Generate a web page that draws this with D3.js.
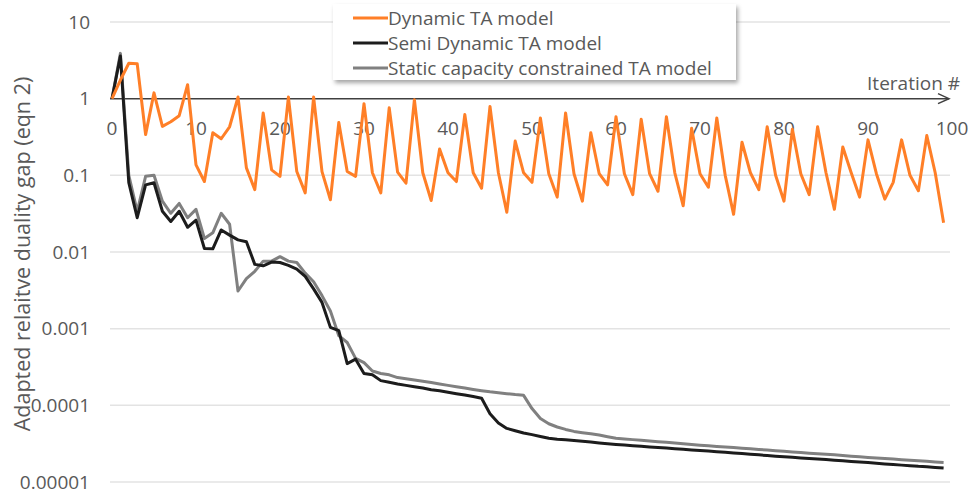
<!DOCTYPE html>
<html lang="en">
<head>
    <meta charset="utf-8">
    <title>Duality gap per iteration</title>
    <script src="https://d3js.org/d3.v7.min.js"></script>
    <style>
        body { margin: 0; background: #fff; }
        text { font-family: "Open Sans", "Noto Sans", sans-serif; fill: #595959; }
    </style>
</head>
<body>
<svg width="970" height="493"></svg>
<script>
    // values, one per iteration 0..99
    var dynamicTA = [1.0, 1.75, 2.9, 2.85, 0.34, 1.19, 0.435, 0.5, 0.6, 1.52,
        0.137, 0.083, 0.36, 0.30, 0.43, 1.05, 0.125, 0.065, 0.65, 0.118,
        0.097, 1.05, 0.112, 0.059, 1.05, 0.112, 0.048, 0.49, 0.112, 0.097,
        0.86, 0.108, 0.059, 0.76, 0.11, 0.079, 0.97, 0.108, 0.047, 0.22,
        0.108, 0.083, 0.62, 0.108, 0.068, 0.79, 0.108, 0.033, 0.28, 0.108,
        0.081, 0.56, 0.105, 0.052, 0.65, 0.105, 0.046, 0.36, 0.105, 0.075,
        0.58, 0.105, 0.056, 0.54, 0.105, 0.062, 0.58, 0.108, 0.04, 0.41,
        0.105, 0.07, 0.56, 0.1, 0.031, 0.27, 0.108, 0.065, 0.43, 0.1,
        0.046, 0.40, 0.105, 0.056, 0.43, 0.108, 0.036, 0.234, 0.108, 0.052,
        0.29, 0.105, 0.049, 0.081, 0.29, 0.1, 0.063, 0.33, 0.108, 0.024];

    var semiDynamicTA = [1.0, 3.6, 0.08, 0.028, 0.075, 0.08, 0.034, 0.025, 0.034, 0.021,
        0.026, 0.0111, 0.011, 0.0194, 0.0166, 0.0144, 0.0136, 0.0069, 0.0066, 0.0074,
        0.0073, 0.0067, 0.006, 0.0048, 0.0033, 0.0022, 0.00104, 0.00094, 0.00035, 0.0004,
        0.00026, 0.00025, 0.00021, 0.0002, 0.00019, 0.000182, 0.000175, 0.000168, 0.00016, 0.000155,
        0.000148, 0.000142, 0.000136, 0.00013, 0.000124, 0.0000776, 0.0000588, 0.00005, 0.0000467, 0.0000436,
        0.0000415, 0.0000392, 0.0000372, 0.0000362, 0.0000355, 0.0000348, 0.000034, 0.0000332, 0.0000323, 0.0000316,
        0.0000309, 0.0000303, 0.0000298, 0.0000292, 0.0000287, 0.0000282, 0.0000277, 0.0000272, 0.0000267, 0.0000262,
        0.0000258, 0.0000253, 0.0000248, 0.0000244, 0.0000239, 0.0000235, 0.000023, 0.0000226, 0.0000221, 0.0000217,
        0.0000213, 0.000021, 0.0000206, 0.0000203, 0.0000199, 0.0000196, 0.0000192, 0.0000189, 0.0000185, 0.0000182,
        0.0000179, 0.0000175, 0.0000172, 0.0000169, 0.0000166, 0.0000163, 0.000016, 0.0000158, 0.0000155, 0.0000152];

    var staticTA = [1.0, 3.9, 0.1, 0.034, 0.097, 0.1, 0.046, 0.032, 0.043, 0.028,
        0.036, 0.015, 0.0178, 0.032, 0.023, 0.0031, 0.0045, 0.0056, 0.0076, 0.0076,
        0.0087, 0.0076, 0.0073, 0.0053, 0.0041, 0.0027, 0.0017, 0.00081, 0.00066, 0.00041,
        0.00036, 0.00028, 0.00026, 0.00025, 0.00023, 0.000222, 0.000214, 0.000206, 0.000198, 0.00019,
        0.000182, 0.000175, 0.000168, 0.000161, 0.000155, 0.00015, 0.000146, 0.000142, 0.000138, 0.000135,
        0.0000907, 0.0000675, 0.0000575, 0.0000522, 0.0000485, 0.0000457, 0.000044, 0.0000425, 0.000041, 0.000039,
        0.0000373, 0.0000365, 0.0000357, 0.000035, 0.0000343, 0.0000336, 0.0000329, 0.0000322, 0.0000315, 0.0000308,
        0.0000302, 0.0000297, 0.0000291, 0.0000286, 0.0000281, 0.0000276, 0.0000271, 0.0000266, 0.0000261, 0.0000256,
        0.0000251, 0.0000247, 0.0000242, 0.0000238, 0.0000234, 0.000023, 0.0000226, 0.0000222, 0.0000217, 0.0000213,
        0.0000209, 0.0000206, 0.0000202, 0.0000199, 0.0000195, 0.0000192, 0.0000189, 0.0000186, 0.0000182, 0.0000179];

    var seriesNames = ["Dynamic TA model", "Semi Dynamic TA model", "Static capacity constrained TA model"];
    var seriesColors = ["#ff7f27", "#1c1c1c", "#808080"];
    var xTicks = [0, 10, 20, 30, 40, 50, 60, 70, 80, 90, 100];
    var yTicks = [10, 1, 0.1, 0.01, 0.001, 0.0001, 0.00001];
    var yTickLabels = ["10", "1", "0.1", "0.01", "0.001", "0.0001", "0.00001"];

    var svg = d3.select("svg");

    var x = d3.scaleLinear().domain([0, 100]).range([112, 952]);
    var y = d3.scaleLog().domain([0.00001, 10]).range([482, 22]);

    // horizontal grid
    svg.append("g").selectAll("line")
        .data(yTicks.filter(function(d){ return d != 1; }))
        .enter().append("line")
        .attr("x1", 110).attr("x2", 950)
        .attr("y1", function(d){ return y(d); })
        .attr("y2", function(d){ return y(d); })
        .attr("stroke", "#e3e3e3")
        .attr("stroke-width", 1.5);

    // y labels
    svg.append("g").selectAll("text")
        .data(yTicks)
        .enter().append("text")
        .attr("x", 90)
        .attr("y", function(d){ return y(d) + 6.5; })
        .attr("text-anchor", "end")
        .style("font-size", "19px")
        .text(function(d, i){ return yTickLabels[i]; });

    // x axis at y = 1, with arrow
    var axisY = y(1);
    svg.append("line")
        .attr("x1", 110).attr("x2", 949)
        .attr("y1", axisY).attr("y2", axisY)
        .attr("stroke", "#404040").attr("stroke-width", 1.5);
    svg.append("path")
        .attr("d", "M938," + (axisY - 5) + "L949," + axisY + "L938," + (axisY + 5))
        .attr("fill", "none").attr("stroke", "#404040").attr("stroke-width", 1.5);

    svg.append("g").selectAll("text")
        .data(xTicks)
        .enter().append("text")
        .attr("x", function(d){ return x(d); })
        .attr("y", axisY + 36)
        .attr("text-anchor", "middle")
        .style("font-size", "19px")
        .text(function(d){ return d; });

    svg.append("text")
        .attr("x", 960).attr("y", axisY - 9)
        .attr("text-anchor", "end")
        .style("font-size", "19px")
        .text("Iteration #");

    // y title
    svg.append("text")
        .attr("transform", "translate(30,254) rotate(-90)")
        .attr("text-anchor", "middle")
        .style("font-size", "21.5px")
        .text("Adapted relaitve duality gap (eqn 2)");

    // series
    var line = d3.line()
        .x(function(d, i){ return x(i); })
        .y(function(d){ return y(d); });

    var allSeries = [dynamicTA, semiDynamicTA, staticTA];
    svg.append("g").selectAll("path")
        .data([staticTA, semiDynamicTA, dynamicTA])
        .enter().append("path")
        .attr("d", line)
        .attr("fill", "none")
        .attr("stroke", function(d){ return seriesColors[allSeries.indexOf(d)]; })
        .attr("stroke-width", 3)
        .attr("stroke-linejoin", "round");

    // legend
    var defs = svg.append("defs");
    var f = defs.append("filter").attr("id", "shadow")
        .attr("x", "-5%").attr("y", "-10%").attr("width", "115%").attr("height", "130%");
    f.append("feDropShadow")
        .attr("dx", 2).attr("dy", 3).attr("stdDeviation", 2)
        .attr("flood-color", "#000").attr("flood-opacity", 0.35);

    var legend = svg.append("g");
    legend.append("rect")
        .attr("x", 333).attr("y", 4).attr("width", 403).attr("height", 76)
        .attr("fill", "#fff")
        .attr("filter", "url(#shadow)");

    var rows = legend.selectAll("g.row")
        .data(seriesNames)
        .enter().append("g")
        .attr("transform", function(d, i){ return "translate(0," + (18 + i * 25) + ")"; });
    rows.append("line")
        .attr("x1", 353).attr("x2", 388)
        .attr("stroke", function(d, i){ return seriesColors[i]; })
        .attr("stroke-width", 3);
    rows.append("text")
        .attr("x", 388).attr("y", 6.5)
        .style("font-size", "19px")
        .text(function(d){ return d; });
</script>
</body>
</html>
